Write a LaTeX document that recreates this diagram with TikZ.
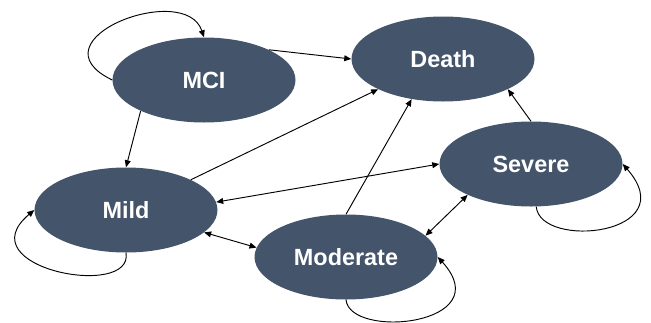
\documentclass[tikz,border=0pt]{standalone}
\usepackage{fontspec}
\setmainfont{Liberation Sans}
\usetikzlibrary{arrows.meta,shapes.geometric}
\definecolor{slate}{HTML}{44546A}

\begin{document}
\begin{tikzpicture}[x=0.03cm, y=0.03cm,
  every node/.style={font=\bfseries\fontsize{20}{24}\selectfont},
  st/.style  ={ellipse, fill=slate, text=white, inner sep=0pt,
               minimum width=5.49cm, minimum height=2.55cm},
  arr/.style ={-{Triangle[length=6pt,width=5pt]}, line width=0.8pt},
  both/.style={{Triangle[length=6pt,width=5pt]}-{Triangle[length=6pt,width=5pt]},
               line width=0.8pt}]

\useasboundingbox (0,0) rectangle (651,322);

%% States
\node[st] (mci)   at (204, 242) {MCI};
\node[st] (death) at (443, 263) {Death};
\node[st] (mild)  at (126, 112) {Mild};
\node[st] (sev)   at (531, 158) {Severe};
\node[st] (mod)   at (346,  65) {Moderate};

%% Transitions between states
\draw[arr]  (mci.25)   -- (death.west);
\draw[arr]  (mci.206)  -- (mild.north);
\draw[arr]  (mild.25)  -- (death.205);
\draw[both] (mild.5)   -- (sev.west);
\draw[both] (mild.344) -- (mod.174);
\draw[arr]  (mod.north) -- (death.232);
\draw[arr]  (sev.north) -- (death.335);
\draw[both] (sev.206)  -- (mod.15);

%% Self loops (staying in the same state)
\draw[arr] (mci.west)  .. controls +(-83,40) and +(-19,57)  .. (mci.north);
\draw[arr] (mild.south) .. controls +(8,-47) and +(-69,-58) .. (mild.west);
\draw[arr] (sev.-83)   .. controls +(4,-43)  and +(62,-71)  .. (sev.east);
\draw[arr] (mod.south) .. controls +(4,-40)  and +(62,-68)  .. (mod.east);
\end{tikzpicture}
\end{document}
